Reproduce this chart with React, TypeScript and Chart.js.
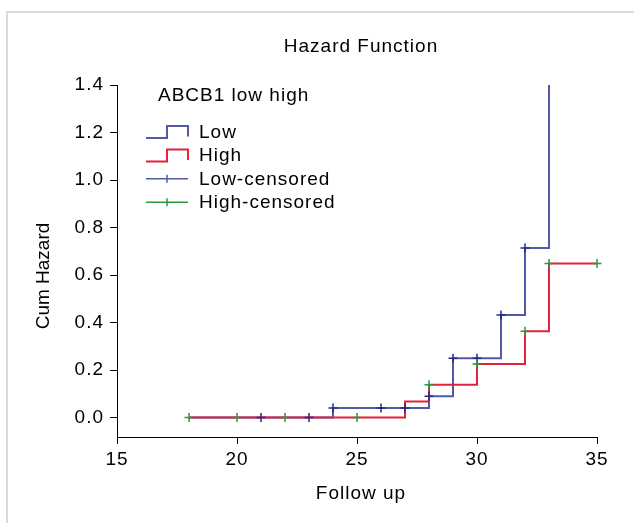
import React, { useEffect, useRef } from "react";
import { Chart, registerables } from "chart.js";

Chart.register(...registerables);

const TITLE = "Hazard Function";
const X_TITLE = "Follow up";
const Y_TITLE = "Cum Hazard";
const LEGEND_TITLE = "ABCB1 low high";
const LEGEND_LABELS = ["Low", "High", "Low-censored", "High-censored"];

const X_TICKS = [15, 20, 25, 30, 35];
const Y_TICKS = [0, 0.2, 0.4, 0.6, 0.8, 1.0, 1.2, 1.4];

// Step curves (cumulative hazard)
const LOW_X = [18, 24, 28, 29, 31, 32, 33];
const LOW_Y = [0, 0.04, 0.09, 0.25, 0.432, 0.714, 1.4];
const HIGH_X = [18, 27, 28, 30, 32, 33, 35];
const HIGH_Y = [0, 0.067, 0.138, 0.225, 0.363, 0.648, 0.648];

// Censored marks
const LOW_CENS_X = [21, 23, 24, 26, 27, 28, 29, 30, 31, 32];
const LOW_CENS_Y = [0, 0, 0.04, 0.04, 0.04, 0.09, 0.25, 0.25, 0.432, 0.714];
const HIGH_CENS_X = [18, 20, 22, 25, 28, 30, 32, 33, 35];
const HIGH_CENS_Y = [0, 0, 0, 0, 0.138, 0.225, 0.363, 0.648, 0.648];

const LOW_LINE = "#5259a6";
const LOW_MARK = "#262a86";
const HIGH_LINE = "#e3223d";
const HIGH_MARK = "#2a9a3c";

const FONT = '19px "Liberation Sans", Arial, sans-serif';

const pts = (xs: number[], ys: number[]) => xs.map((x, i) => ({ x, y: ys[i] }));

const overlay = {
  id: "overlay",
  beforeDraw(chart: any) {
    const ctx = chart.ctx;
    ctx.letterSpacing = "1px";
    ctx.save();
    ctx.fillStyle = "#dadada";
    ctx.fillRect(6, 11, 2, chart.height - 11);
    ctx.fillRect(6, 11, chart.width - 6, 2);
    ctx.restore();
  },
  afterDraw(chart: any) {
    const ctx = chart.ctx;
    const ca = chart.chartArea;
    ctx.save();
    ctx.letterSpacing = "1px";
    ctx.fillStyle = "#000";
    ctx.font = FONT;
    ctx.textAlign = "center";
    ctx.textBaseline = "alphabetic";
    const cx = (ca.left + ca.right) / 2 + 4;
    ctx.fillText(TITLE, cx, 52);
    ctx.fillText(X_TITLE, cx, 499);

    ctx.save();
    ctx.letterSpacing = "0px";
    ctx.translate(49, 276);
    ctx.rotate(-Math.PI / 2);
    ctx.fillText(Y_TITLE, 0, 0);
    ctx.restore();

    // legend
    const lx = ca.left + 29;
    ctx.textAlign = "left";
    ctx.fillText(LEGEND_TITLE, ca.left + 41, 101);
    const colors = [LOW_LINE, HIGH_LINE, LOW_LINE, HIGH_MARK];
    LEGEND_LABELS.forEach((lab, i) => {
      const b = 137.5 + i * 23.6;
      ctx.fillStyle = "#000";
      ctx.fillText(lab, lx + 53, b);
      ctx.strokeStyle = colors[i];
      ctx.lineWidth = 2;
      ctx.beginPath();
      if (i < 2) {
        ctx.moveTo(lx, b + 0.5);
        ctx.lineTo(lx + 21, b + 0.5);
        ctx.lineTo(lx + 21, b - 11.5);
        ctx.lineTo(lx + 42, b - 11.5);
        ctx.lineTo(lx + 42, b - 1);
        ctx.stroke();
      } else {
        const y = b - 6;
        ctx.lineWidth = 1.5;
        ctx.moveTo(lx, y);
        ctx.lineTo(lx + 42, y);
        ctx.moveTo(lx + 21, y - 4);
        ctx.lineTo(lx + 21, y + 4);
        ctx.stroke();
      }
    });
    ctx.restore();
  },
};

export default function App() {
  const ref = useRef<HTMLCanvasElement | null>(null);
  useEffect(() => {
    if (!ref.current) return;
    const chart = new Chart(ref.current, {
      type: "line",
      data: {
        datasets: [
          {
            label: LEGEND_LABELS[3],
            data: pts(HIGH_CENS_X, HIGH_CENS_Y),
            showLine: false,
            pointStyle: "cross",
            pointRadius: 4.5,
            pointBorderWidth: 1.5,
            pointBorderColor: HIGH_MARK,
            borderColor: HIGH_MARK,
            clip: false,
          },
          {
            label: LEGEND_LABELS[2],
            data: pts(LOW_CENS_X, LOW_CENS_Y),
            showLine: false,
            pointStyle: "cross",
            pointRadius: 4.5,
            pointBorderWidth: 1.5,
            pointBorderColor: LOW_MARK,
            borderColor: LOW_MARK,
            clip: false,
          },
          {
            label: LEGEND_LABELS[1],
            data: pts(HIGH_X, HIGH_Y),
            stepped: "before",
            borderColor: HIGH_LINE,
            borderWidth: 2,
            pointRadius: 0,
            fill: false,
            clip: false,
          },
          {
            label: LEGEND_LABELS[0],
            data: pts(LOW_X, LOW_Y),
            stepped: "before",
            borderColor: LOW_LINE,
            borderWidth: 2,
            pointRadius: 0,
            fill: false,
            clip: false,
          },
        ],
      },
      options: {
        animation: false,
        responsive: false,
        events: [],
        layout: { padding: { left: 0, top: 85, right: 37, bottom: 0 } },
        plugins: { legend: { display: false }, tooltip: { enabled: false }, title: { display: false } },
        scales: {
          x: {
            type: "linear",
            min: X_TICKS[0],
            max: X_TICKS[X_TICKS.length - 1],
            afterBuildTicks: (s: any) => {
              s.ticks = X_TICKS.map((v) => ({ value: v }));
            },
            afterFit: (s: any) => {
              s.height = 86;
            },
            grid: { drawOnChartArea: false, drawTicks: true, tickLength: 7, color: "#000", lineWidth: 1 },
            border: { display: true, color: "#000", width: 1 },
            ticks: { color: "#000", font: { family: '"Liberation Sans", Arial, sans-serif', size: 19 }, padding: 4, maxRotation: 0 },
          },
          y: {
            type: "linear",
            min: -0.082,
            max: 1.4,
            afterBuildTicks: (s: any) => {
              s.ticks = Y_TICKS.map((v) => ({ value: v }));
            },
            afterFit: (s: any) => {
              s.width = 117;
            },
            grid: { drawOnChartArea: false, drawTicks: true, tickLength: 7, color: "#000", lineWidth: 1 },
            border: { display: true, color: "#000", width: 1 },
            ticks: {
              color: "#000",
              font: { family: '"Liberation Sans", Arial, sans-serif', size: 19 },
              padding: 6,
              callback: (v: any) => Number(v).toFixed(1),
            },
          },
        },
      },
      plugins: [overlay],
    });
    return () => chart.destroy();
  }, []);
  return (
    <div style={{ position: "fixed", left: 0, top: 0, width: 634, height: 523, background: "#fff" }}>
      <canvas ref={ref} width={634} height={523} style={{ display: "block" }} />
    </div>
  );
}
